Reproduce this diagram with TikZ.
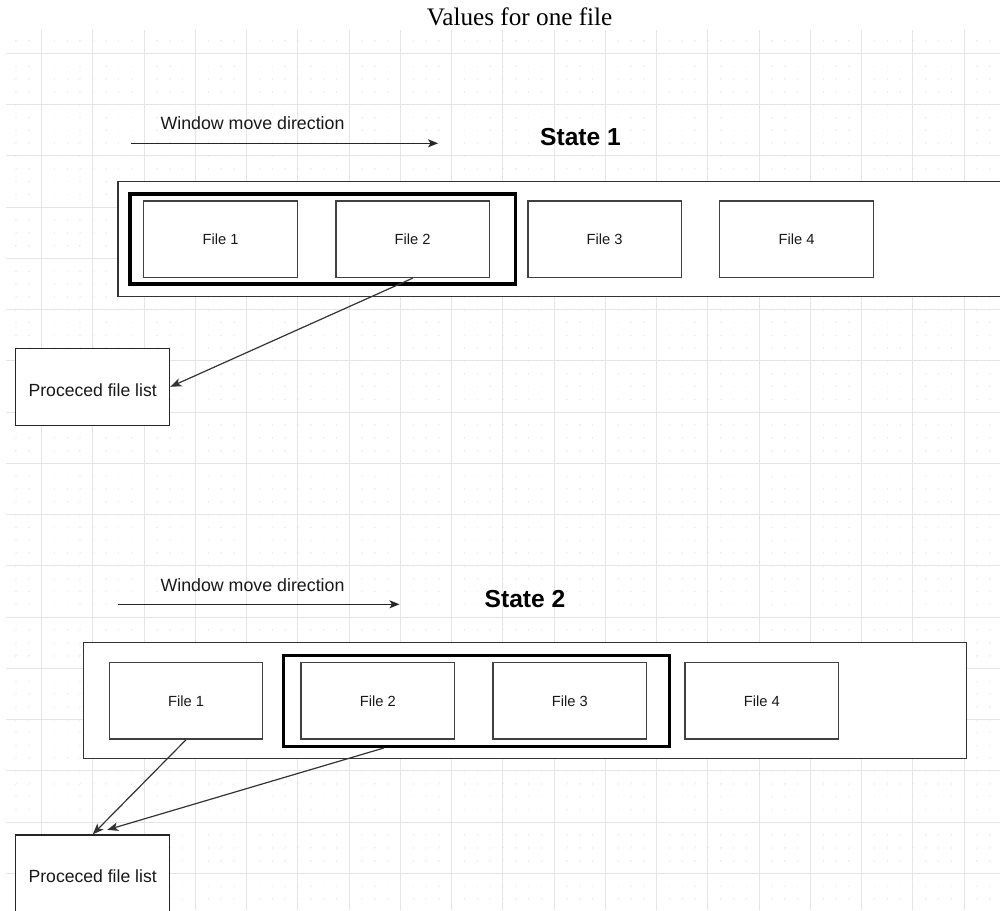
\documentclass[tikz,border=0pt]{standalone}
\usepackage{fontspec}
\setmainfont{Liberation Sans}
\newfontfamily\titlefont{Liberation Serif}
\usetikzlibrary{arrows.meta,calc}

\begin{document}
\begin{tikzpicture}[x=1pt,y=-1pt,
  majorgrid/.style={draw=black!10, line width=0.8pt},
  minorgrid/.style={draw=black!7, line width=0.9pt, dash pattern=on 1.1pt off 11.7125pt},
  container/.style={draw=black!80, line width=1.2pt, fill=white, inner sep=0pt},
  window/.style={draw=black, line width=3.3pt, inner sep=0pt},
  filebox/.style={draw=black!75, line width=1.3pt, fill=white, inner sep=0pt,
    minimum width=153.6pt, minimum height=76.6pt, text=black!90,
    font=\fontsize{14.7}{17}\selectfont},
  listbox/.style={draw=black!85, line width=1.3pt, fill=white, inner sep=0pt,
    minimum width=154pt, minimum height=77pt, text=black!90,
    text height=18.8pt, text depth=0pt,
    font=\fontsize{17.6}{20}\selectfont},
  dirlabel/.style={text=black!90, inner sep=0pt, font=\fontsize{17.8}{20}\selectfont},
  statelabel/.style={text=black, inner sep=0pt, font=\bfseries\fontsize{24.6}{28}\selectfont},
  movearrow/.style={draw=black!85, line width=1.1pt, -{Stealth[length=10pt,width=8pt,inset=2.5pt]}},
  link/.style={draw=black!80, line width=1.2pt, -{Stealth[length=11pt,width=8.5pt,inset=2.8pt]}}
]
\useasboundingbox (0,0) rectangle (1000,910);
\fill[white] (0,0) rectangle (1000,910);

% title
\node[inner sep=0pt, font=\titlefont\fontsize{25.2}{28}\selectfont] (title) at (519.7,16.5) {Values for one file};

% background grid
\begin{scope}
  \clip (6,30) rectangle (1000,910);
  \foreach \k in {-3,...,77}
    \draw[minorgrid] ({41.5+12.8125*\k},27.6) -- ++(0,890);
  \foreach \k in {-2,...,70}
    \draw[minorgrid] (2.9,{53.2+12.8125*\k}) -- ++(1000,0);
  \foreach \i in {0,...,18}
    \draw[majorgrid] ({41.5+51.25*\i},30) -- ++(0,880);
  \foreach \j in {0,...,16}
    \draw[majorgrid] (6,{53.2+51.25*\j}) -- (1000,{53.2+51.25*\j});
\end{scope}

% ---------- state 1 ----------
\node[dirlabel] (dir1) at (252.5,123.5) {Window move direction};
\coordinate (mv1s) at (130.7,143.3);
\coordinate (mv1e) at (438,143.3);
\draw[movearrow] (mv1s) -- (mv1e);
\node[statelabel] (state1) at (580.5,137.5) {State 1};

\node[container, minimum width=892pt, minimum height=115pt] (c1) at (564,239.2) {};
\node[window, minimum width=385.5pt, minimum height=90pt] (w1) at (322.8,239) {};
\node[filebox] (a1) at (220.5,239.2) {File 1};
\node[filebox] (a2) at (412.7,239.2) {File 2};
\node[filebox] (a3) at (604.7,239.2) {File 3};
\node[filebox] (a4) at (796.5,239.2) {File 4};

\node[listbox] (pl1) at (92.7,386.8) {Proceced file list};
\draw[link] (a2.south) -- (pl1.east);

% ---------- state 2 ----------
\node[dirlabel] (dir2) at (252.5,585) {Window move direction};
\coordinate (mv2s) at (118.3,604.3);
\coordinate (mv2e) at (399.5,604.3);
\draw[movearrow] (mv2s) -- (mv2e);
\node[statelabel] (state2) at (525,599.5) {State 2};

\node[container, minimum width=883.4pt, minimum height=115.6pt] (c2) at (525,700.5) {};
\node[window, minimum width=385.6pt, minimum height=90.6pt] (w2) at (476.5,701) {};
\node[filebox] (b1) at (186,700.8) {File 1};
\node[filebox] (b2) at (377.9,700.8) {File 2};
\node[filebox] (b3) at (569.9,700.8) {File 3};
\node[filebox] (b4) at (761.9,700.8) {File 4};

\node[listbox] (pl2) at (92.7,873.5) {Proceced file list};
\coordinate (w2out) at ($(w2.south west)!0.262!(w2.south east)$);
\coordinate (pl2in) at ($(pl2.north)+(14.5,-4.5)$);
\draw[link] (b1.south) -- (pl2.north);
\draw[link] (w2out) -- (pl2in);
\end{tikzpicture}
\end{document}
